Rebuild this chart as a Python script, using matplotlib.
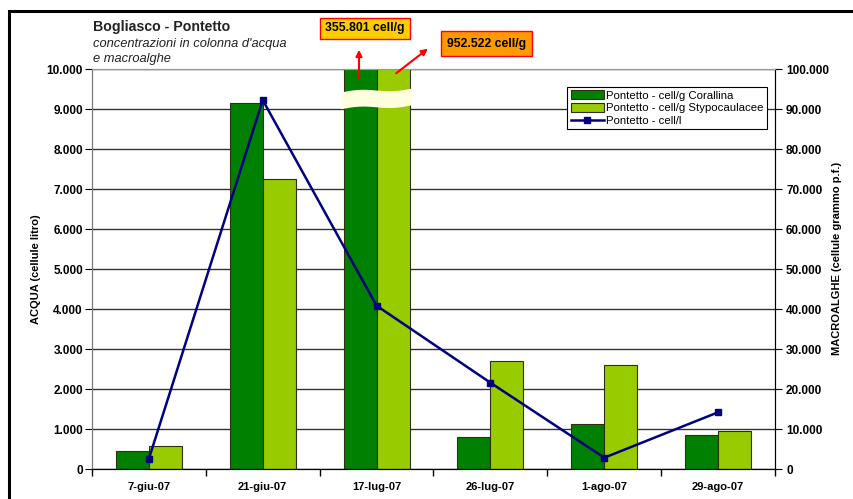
import numpy as np
import matplotlib.pyplot as plt
from matplotlib.ticker import FuncFormatter, FixedLocator
from matplotlib.patches import Rectangle, Polygon
import matplotlib.transforms as mtransforms

plt.rcParams['font.family'] = ['Liberation Sans', 'DejaVu Sans']

# Dati
date = ['7-giu-07', '21-giu-07', '17-lug-07', '26-lug-07', '1-ago-07', '29-ago-07']
corallina = [4580, 91650, 355801, 8150, 11250, 8500]      # cell/g
stypocaulacee = [5900, 72500, 952522, 27150, 26100, 9500]  # cell/g
cell_litro = [265, 9230, 4090, 2165, 290, 1425]            # cell/l

BG = '#FFFFCC'
DARK = '#008000'
LIGHT = '#99CC00'
NAVY = '#000080'


def punti(v, pos):
    return f"{v:,.0f}".replace(',', '.')


fig = plt.figure(figsize=(8.54, 4.99), dpi=100)
axL = fig.add_axes([92 / 854, 1 - 469.3 / 499, 683 / 854, 400 / 499])
axR = axL.twinx()
axL.set_zorder(axR.get_zorder() + 1)
axL.patch.set_visible(False)
axR.patch.set_facecolor(BG)

x = np.arange(len(date))
w = 0.29
axR.bar(x - w / 2, corallina, w, color=DARK, edgecolor='#303010', linewidth=0.8,
        label='Pontetto - cell/g Corallina')
axR.bar(x + w / 2, stypocaulacee, w, color=LIGHT, edgecolor='#303010', linewidth=0.8,
        label='Pontetto - cell/g Stypocaulacee')
axL.plot(x, cell_litro, color=NAVY, linewidth=1.8, marker='s', markersize=5,
         label='Pontetto - cell/l')

axL.set_xlim(-0.5, len(date) - 0.5)
axL.set_ylim(0, 10000)
axR.set_ylim(0, 100000)
axL.set_yticks(np.arange(0, 10001, 1000))
axR.set_yticks(np.arange(0, 100001, 10000))
axL.yaxis.set_major_formatter(FuncFormatter(punti))
axR.yaxis.set_major_formatter(FuncFormatter(punti))

axR.set_axisbelow(True)
axR.yaxis.grid(True, color='#333333', linewidth=1.0)

axL.set_xticks(x)
axL.set_xticklabels(date)
axL.xaxis.set_minor_locator(FixedLocator(np.arange(-0.5, len(date), 1)))
axL.tick_params(axis='x', which='major', length=0, pad=9, labelsize=8)
axL.tick_params(axis='x', which='minor', length=5, direction='out', width=1)
for lab in axL.get_xticklabels():
    lab.set_fontweight('bold')
axL.tick_params(axis='y', length=5, direction='out', labelsize=8.5, pad=1.5)
axR.tick_params(axis='y', length=5, direction='out', labelsize=8.5, pad=3)
for lab in axL.get_yticklabels() + axR.get_yticklabels():
    lab.set_fontweight('bold')

for a in (axL, axR):
    a.spines['top'].set_color('#999999')
    a.spines['left'].set_color('#777777')
    a.spines['bottom'].set_color('black')
    a.spines['right'].set_color('black')

axL.set_ylabel('ACQUA (cellule litro)', fontsize=8, fontweight='bold')
axR.set_ylabel('MACROALGHE (cellule grammo p.f.)', fontsize=8, fontweight='bold')
axL.yaxis.set_label_coords((41 - 92) / 683, (469.3 - 269) / 400)
axR.yaxis.set_label_coords((832 - 92) / 683, (469.3 - 258) / 400)

# Interruzione delle barre del 17-lug-07
trans = mtransforms.blended_transform_factory(axR.transData, axR.transAxes)
xs = np.linspace(2 - w - 0.02, 2 + w + 0.02, 40)
t = (xs - xs[0]) / (xs[-1] - xs[0])
onda = 0.010 * t + 0.004 * np.sin(t * 2 * np.pi)
top = 0.942 + onda
bot = 0.900 + onda
pts = np.column_stack([np.r_[xs, xs[::-1]], np.r_[top, bot[::-1]]])
axR.add_patch(Polygon(pts, closed=True, transform=trans, facecolor='#FFFFDD',
                      edgecolor='none', zorder=5))

# Legenda
h1, l1 = axR.get_legend_handles_labels()
h2, l2 = axL.get_legend_handles_labels()
leg = axL.legend(h1 + h2, l1 + l2, loc='upper right',
                 bbox_to_anchor=(767 / 854, 1 - 87 / 499),
                 bbox_transform=fig.transFigure, fontsize=8.2, frameon=True,
                 fancybox=False, edgecolor='black', framealpha=1,
                 handlelength=2.9, handleheight=0.8, borderpad=0.3,
                 labelspacing=0.2, handletextpad=0.2, borderaxespad=0)
leg.get_frame().set_linewidth(0.8)

# Titoli
fig.text(93 / 854, 1 - 27 / 499, 'Bogliasco - Pontetto', fontsize=10.2,
         fontweight='bold', color='#222222', va='center')
fig.text(93 / 854, 1 - 44 / 499, "concentrazioni in colonna d'acqua", fontsize=9.3,
         style='italic', color='#222222', va='center')
fig.text(93 / 854, 1 - 59 / 499, 'e macroalghe', fontsize=9.3,
         style='italic', color='#222222', va='center')

# Valori fuori scala
fig.text(365 / 854, 1 - 28.5 / 499, f"{punti(corallina[2], 0)} cell/g", fontsize=8.8,
         fontweight='bold', ha='center', va='center',
         bbox=dict(boxstyle='square,pad=0.4', facecolor='#FFCC00', edgecolor='red',
                   linewidth=1))
fig.text(486.5 / 854, 1 - 43.5 / 499, f"{punti(stypocaulacee[2], 0)} cell/g", fontsize=8.8,
         fontweight='bold', ha='center', va='center',
         bbox=dict(boxstyle='square,pad=0.5', facecolor='#FF9900', edgecolor='red',
                   linewidth=1))
arrow = dict(arrowstyle='-|>', color='red', linewidth=1.5, mutation_scale=9)
axL.annotate('', xy=(359 / 854, 1 - 47 / 499), xytext=(359 / 854, 1 - 82 / 499),
             xycoords='figure fraction', textcoords='figure fraction',
             arrowprops=arrow, zorder=10, annotation_clip=False)
axL.annotate('', xy=(430 / 854, 1 - 47 / 499), xytext=(394 / 854, 1 - 75 / 499),
             xycoords='figure fraction', textcoords='figure fraction',
             arrowprops=arrow, zorder=10, annotation_clip=False)

# Cornice
fig.patches.append(Rectangle((9 / 854, -0.1), 1.2, 1.1 - 11 / 499,
                             transform=fig.transFigure, fill=False,
                             edgecolor='black', linewidth=2.2))

fig.savefig('out.png', dpi=100)
